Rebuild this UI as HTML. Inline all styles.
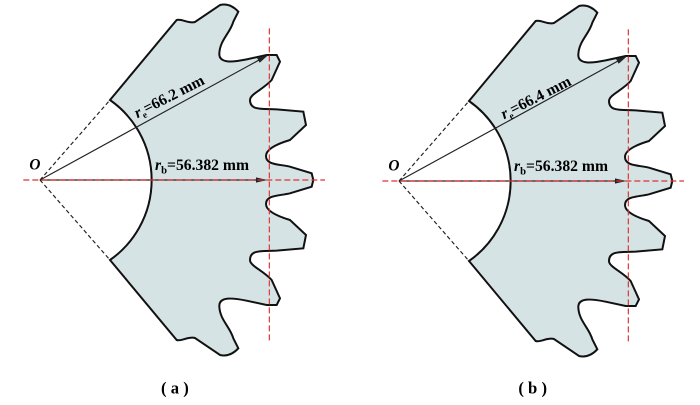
<!DOCTYPE html>
<html><head><style>body{margin:0;background:#fff}svg{display:block}</style></head><body>
<svg width="700" height="405" viewBox="0 0 2100 1215" xmlns="http://www.w3.org/2000/svg">
<defs>
<g id="gear">
<path d="M330,300 L530,60 C545,55 565,72 585,66 L660,15 Q690,8 715,35 L700,65 C690,100 660,120 658,160 C656,192 700,186 740,178 L800,165 L830,165 L840,185 L815,240 C790,268 750,282 750,300 C750,332 785,326 830,328 L910,335 L918,375 L870,420 C830,432 798,448 798,468 C798,495 835,492 870,500 L935,520 L940,540
L935,560 L870,580 C835,588 798,585 798,612 C798,632 830,648 870,660 L918,705 L910,745 L830,752 C785,754 750,748 750,780 C750,798 790,812 815,840 L840,895 L830,915 L800,915 L740,902 C700,894 656,888 658,920 C660,960 690,980 700,1015 L715,1045 Q690,1072 660,1065 L585,1014 C565,1008 545,1025 530,1020 L330,780 A293,293 0 0 0 330,300 Z" fill="#d5e3e5" stroke="#111" stroke-width="6"/>
<line x1="120" y1="540" x2="330" y2="300" stroke="#222" stroke-width="3.5" stroke-dasharray="12,8"/>
<line x1="120" y1="540" x2="330" y2="780" stroke="#222" stroke-width="3.5" stroke-dasharray="12,8"/>
<line x1="120" y1="540" x2="790" y2="173" stroke="#222" stroke-width="3.5"/>
<polygon points="0,0 -34,-8 -34,8" transform="translate(805,165) rotate(-28.7)" fill="#222"/>
<line x1="120" y1="540" x2="780" y2="540" stroke="#222" stroke-width="3.5"/>
<polygon points="0,0 -34,-8 -34,8" transform="translate(802,540)" fill="#222"/>
<line x1="70" y1="540" x2="975" y2="540" stroke="#e03030" stroke-width="3.5" stroke-dasharray="18,9"/>
<line x1="808" y1="85" x2="808" y2="1025" stroke="#e03030" stroke-width="3.5" stroke-dasharray="18,9"/>
<text x="88" y="508" font-family="Liberation Serif, serif" font-style="italic" font-weight="bold" font-size="46">O</text>
<text x="465" y="510" font-family="Liberation Serif, serif" font-weight="bold" font-size="47"><tspan font-style="italic">r</tspan><tspan font-size="32" dy="10">b</tspan><tspan dy="-10">=56.382 mm</tspan></text>
</g>
</defs>
<use href="#gear"/>
<text transform="translate(412,355) rotate(-27)" font-family="Liberation Serif, serif" font-weight="bold" font-size="47"><tspan font-style="italic">r</tspan><tspan font-size="28" dy="10">e</tspan><tspan dy="-10">=66.2 mm</tspan></text>
<text x="483" y="1180" font-family="Liberation Serif, serif" font-weight="bold" font-size="50">( a )</text>
<g transform="translate(1077,3)"><use href="#gear"/></g>
<text transform="translate(1512,358) rotate(-27)" font-family="Liberation Serif, serif" font-weight="bold" font-size="47"><tspan font-style="italic">r</tspan><tspan font-size="28" dy="10">e</tspan><tspan dy="-10">=66.4 mm</tspan></text>
<text x="1555" y="1180" font-family="Liberation Serif, serif" font-weight="bold" font-size="50">( b )</text>
</svg>
</body></html>
